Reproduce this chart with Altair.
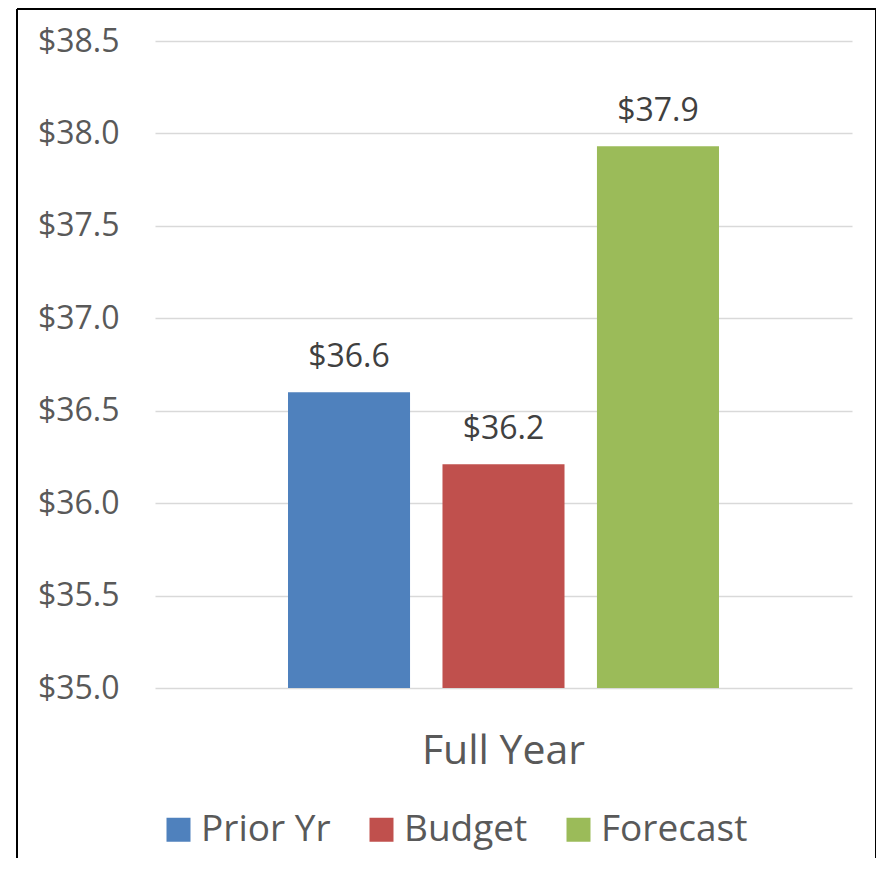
import altair as alt
import pandas as pd

periods = ["Full Year", "Full Year", "Full Year"]
series = ["Prior Yr", "Budget", "Forecast"]
values = [36.60, 36.21, 37.93]
labels = ["$36.6", "$36.2", "$37.9"]
colors = ["#4F81BD", "#C0504D", "#9BBB59"]
y_ticks = [35.0, 35.5, 36.0, 36.5, 37.0, 37.5, 38.0, 38.5]

df = pd.DataFrame({"period": periods, "series": series, "value": values, "label": labels})

W, H = 697, 647
FONT = "Open Sans"
FS = 32

base = alt.Chart(df).encode(
    x=alt.X("period:N", title=None,
            scale=alt.Scale(paddingInner=0, paddingOuter=0.3086),
            axis=alt.Axis(labelAngle=0, labelFontSize=41, labelColor="#595959", labelFont=FONT,
                          labelPadding=43, ticks=False, domain=False, grid=False)),
    xOffset=alt.XOffset("series:N", sort=series, scale=alt.Scale(paddingInner=0.21, paddingOuter=0)),
)

bars = base.mark_bar().encode(
    y=alt.Y("value:Q", title=None,
            scale=alt.Scale(domain=[35.0, 38.5], zero=False, nice=False),
            axis=alt.Axis(values=y_ticks, format="$.1f", labelFontSize=FS, labelColor="#595959",
                          labelFont=FONT, labelPadding=36, ticks=False, domain=False,
                          gridColor="#D9D9D9", gridWidth=1.5)),
    y2=alt.datum(35.0),
    color=alt.Color("series:N", sort=series, scale=alt.Scale(domain=series, range=colors),
                    legend=alt.Legend(title=None, orient="none", direction="horizontal",
                                      legendX=5, legendY=770, symbolType="square", symbolSize=576,
                                      symbolStrokeWidth=0, labelFontSize=37, labelFont=FONT,
                                      labelColor="#595959", labelOffset=4, columnPadding=32,
                                      symbolOpacity=1)),
)

text = base.mark_text(baseline="bottom", dy=-18, fontSize=FS, font=FONT, color="#404040").encode(
    y=alt.Y("value:Q"),
    text="label:N",
)

border_df = pd.DataFrame({"k": [0]})
left = alt.Chart(border_df).mark_rule(color="black", strokeWidth=2).encode(
    x=alt.value(-138), y=alt.value(-32), y2=alt.value(900))
top = alt.Chart(border_df).mark_rule(color="black", strokeWidth=2).encode(
    x=alt.value(-138), x2=alt.value(721), y=alt.value(-32))
right = alt.Chart(border_df).mark_rule(color="black", strokeWidth=2).encode(
    x=alt.value(721), y=alt.value(-32), y2=alt.value(900))

chart = alt.layer(bars, text, left, top, right).properties(
    width=W, height=H,
    background="white",
    autosize=alt.AutoSizeParams(type="none"),
    padding={"left": 147, "top": 33, "right": 24, "bottom": 170},
).configure_view(strokeWidth=0, strokeOpacity=0)

chart.save("out.html", embed_options={"renderer": "svg", "actions": False})
